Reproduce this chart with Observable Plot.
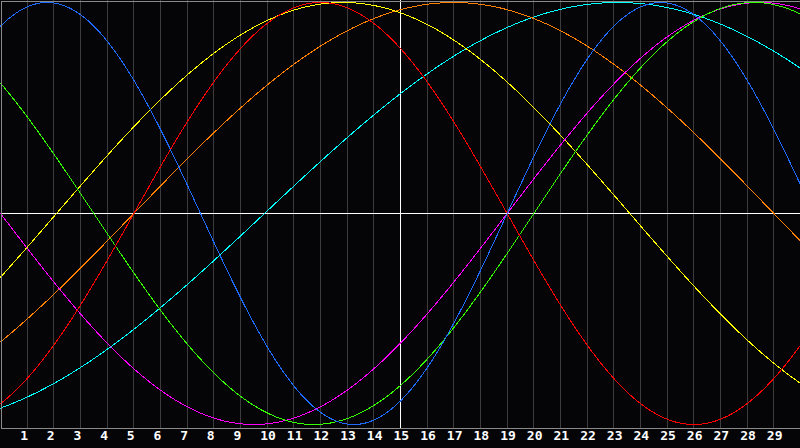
<!DOCTYPE html>
<html>
<head>
<meta charset="utf-8">
<script src="https://cdn.jsdelivr.net/npm/d3@7"></script>
<script src="https://cdn.jsdelivr.net/npm/@observablehq/plot@0.6"></script>
<style>
  html, body { margin: 0; padding: 0; background: #050508; }
  #chart { width: 800px; height: 448px; }
</style>
</head>
<body>
<div id="chart"></div>
<script>
// Day tick labels
const days = d3.range(1, 30);
// Biorhythm cycles
const cycleNames  = ["Spiritual", "Awareness", "Aesthetic", "Intuitive", "Intellectual", "Emotional", "Physical"];
const periods     = [53, 48, 43, 38, 33, 28, 23];          // cycle length in days
const upCrossings = [9.9, 5.0, 2.1, 19.0, 20.0, 5.0, 19.0]; // day where curve rises through zero
const colors      = ["#00ffff", "#ff8000", "#ffff00", "#ff00ff", "#33ff00", "#ff0000", "#1e6bff"];
const dayStart = 0, dayEnd = 30;

// sample each cycle along the day axis
const samples = d3.range(dayStart, dayEnd + 0.0001, 0.05);
const curves = cycleNames.map((name, i) => ({
  name,
  color: colors[i],
  points: samples.map(d => ({ d, v: Math.sin(2 * Math.PI * (d - upCrossings[i]) / periods[i]) }))
}));

const chart = Plot.plot({
  width: 800,
  height: 448,
  marginTop: 0,
  marginRight: 0,
  marginBottom: 20,
  marginLeft: 0,
  style: { background: "#050508", overflow: "visible" },
  x: { domain: [dayStart, dayEnd], range: [0, 800], axis: null },
  y: { domain: [-1, 1], range: [424, 2], axis: null },
  marks: [
    Plot.ruleX(days, { x: d => d, stroke: "#3c3c3c", strokeWidth: 1, shapeRendering: "crispEdges" }),
    Plot.ruleX([15], { stroke: "#ffffff", strokeWidth: 1, shapeRendering: "crispEdges" }),
    Plot.ruleY([0], { stroke: "#ffffff", strokeWidth: 1, shapeRendering: "crispEdges" }),
    ...curves.map(c => Plot.line(c.points, {
      x: "d", y: "v", stroke: c.color, strokeWidth: 1, shapeRendering: "crispEdges"
    })),
    Plot.frame({ stroke: "#8a8a8a", inset: 0.5, shapeRendering: "crispEdges" }),
    Plot.text(days, {
      x: d => d, text: d => String(d), frameAnchor: "bottom",
      dy: 11, dx: -7, textAnchor: "start",
      fill: "#ffffff", fontWeight: "bold", fontSize: 13,
      fontFamily: "DejaVu Sans Mono"
    })
  ]
});
document.getElementById("chart").appendChild(chart);
</script>
</body>
</html>
